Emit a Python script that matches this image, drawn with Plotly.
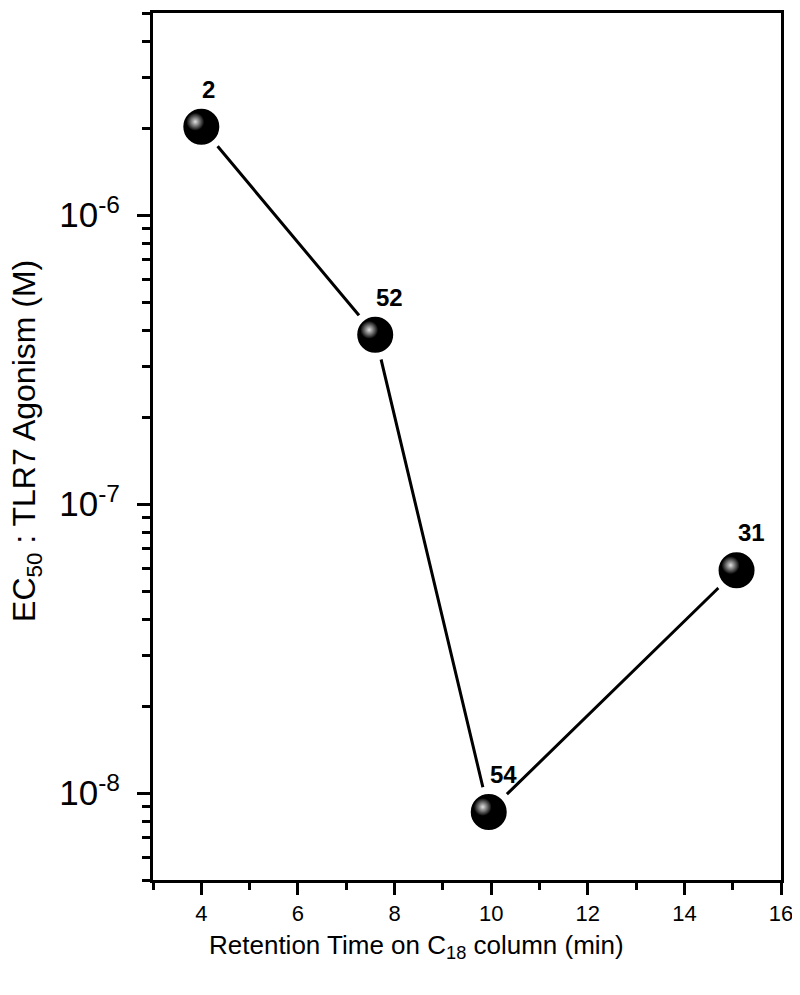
import math
import plotly.graph_objects as go

# retention time (min) and EC50 (M)
ret_time = [4.0, 7.6, 9.95, 15.08]
ec50 = [2.02e-6, 3.85e-7, 8.6e-9, 5.9e-8]
labels = ["2", "52", "54", "31"]

x_major = [4, 6, 8, 10, 12, 14, 16]
x_minor = [3, 5, 7, 9, 11, 13, 15]
y_major = [1e-8, 1e-7, 1e-6]
y_major_text = ["10<sup>-8</sup>", "10<sup>-7</sup>", "10<sup>-6</sup>"]
y_minor = [5e-9, 6e-9, 7e-9, 8e-9, 9e-9,
           2e-8, 3e-8, 4e-8, 5e-8, 6e-8, 7e-8, 8e-8, 9e-8,
           2e-7, 3e-7, 4e-7, 5e-7, 6e-7, 7e-7, 8e-7, 9e-7,
           2e-6, 3e-6, 4e-6, 5e-6]

# the page's body keeps its default 8px margin, so the figure is 8px smaller
W, H = 792, 987
L, R, T, B = 139, 19, 0, 115
pw, ph = W - L - R, H - T - B

fig = go.Figure()

# connecting line + black spheres (white ring makes the gap around each ball)
fig.add_trace(go.Scatter(
    x=ret_time, y=ec50, mode="lines+markers",
    line=dict(color="black", width=3),
    marker=dict(size=43.5, color="black", line=dict(color="white", width=7.5)),
    hoverinfo="skip", showlegend=False))

# highlight on each sphere, drawn on a twin axis shifted up-left a few px
dx, dy = 6 / pw, 5 / ph
fig.add_trace(go.Scatter(
    x=ret_time, y=ec50, mode="markers", xaxis="x2", yaxis="y2",
    marker=dict(size=18, color="black",
                gradient=dict(type="radial", color="#e0e0e0"),
                line=dict(width=0)),
    hoverinfo="skip", showlegend=False))

# compound numbers (annotation y on a log axis is given in log10 units)
for xv, yv, t in zip(ret_time, ec50, labels):
    fig.add_annotation(x=xv, y=math.log10(yv), text="<b>%s</b>" % t,
                       showarrow=False, xanchor="left", yanchor="bottom",
                       yshift=22, xshift=-1,
                       font=dict(size=24, color="black"))

axis_font = dict(family="Liberation Sans, Arial, sans-serif", color="black")

fig.update_layout(
    width=W, height=H,
    margin=dict(l=L, r=R, t=T, b=B, autoexpand=False),
    paper_bgcolor="white", plot_bgcolor="rgba(0,0,0,0)",
    font=dict(family="Liberation Sans, Arial, sans-serif", color="black"),
    xaxis=dict(range=[3, 16], domain=[dx, 1],
               tickmode="array", tickvals=x_major,
               ticks="outside", ticklen=12, tickwidth=2.5, tickcolor="black",
               minor=dict(tickmode="array", tickvals=x_minor, ticks="outside",
                          ticklen=7, tickwidth=2.5, tickcolor="black"),
               showline=True, linewidth=3, linecolor="black", mirror=True,
               showgrid=False, zeroline=False,
               tickfont=dict(size=22, **axis_font)),
    yaxis=dict(type="log", range=[-8.301, -5.301], domain=[0, 1 - dy],
               tickmode="array", tickvals=y_major, ticktext=y_major_text,
               ticks="outside", ticklen=13, tickwidth=2.5, tickcolor="black",
               ticklabelstandoff=10,
               minor=dict(tickmode="array", tickvals=y_minor, ticks="outside",
                          ticklen=8, tickwidth=2.5, tickcolor="black"),
               showline=True, linewidth=3, linecolor="black", mirror=True,
               showgrid=False, zeroline=False,
               tickfont=dict(size=35, **axis_font)),
    xaxis2=dict(range=[3, 16], domain=[0, 1 - dx], anchor="y2",
                visible=False, showgrid=False, zeroline=False),
    yaxis2=dict(type="log", range=[-8.301, -5.301], domain=[dy, 1], anchor="x2",
                visible=False, showgrid=False, zeroline=False),
)

# axis titles placed as annotations to match the original positions
fig.add_annotation(xref="paper", yref="paper", x=0.425, y=-0.076,
                   xanchor="center", yanchor="middle", showarrow=False,
                   text="Retention Time on C<sub>18</sub> column (min)",
                   font=dict(size=26, color="black"))
fig.add_annotation(xref="paper", yref="paper", x=-0.19, y=0.503,
                   xanchor="center", yanchor="middle", showarrow=False,
                   textangle=-90,
                   text="EC<sub>50</sub> : TLR7 Agonism (M)",
                   font=dict(size=32, color="black"))

fig.write_html("out.html")
